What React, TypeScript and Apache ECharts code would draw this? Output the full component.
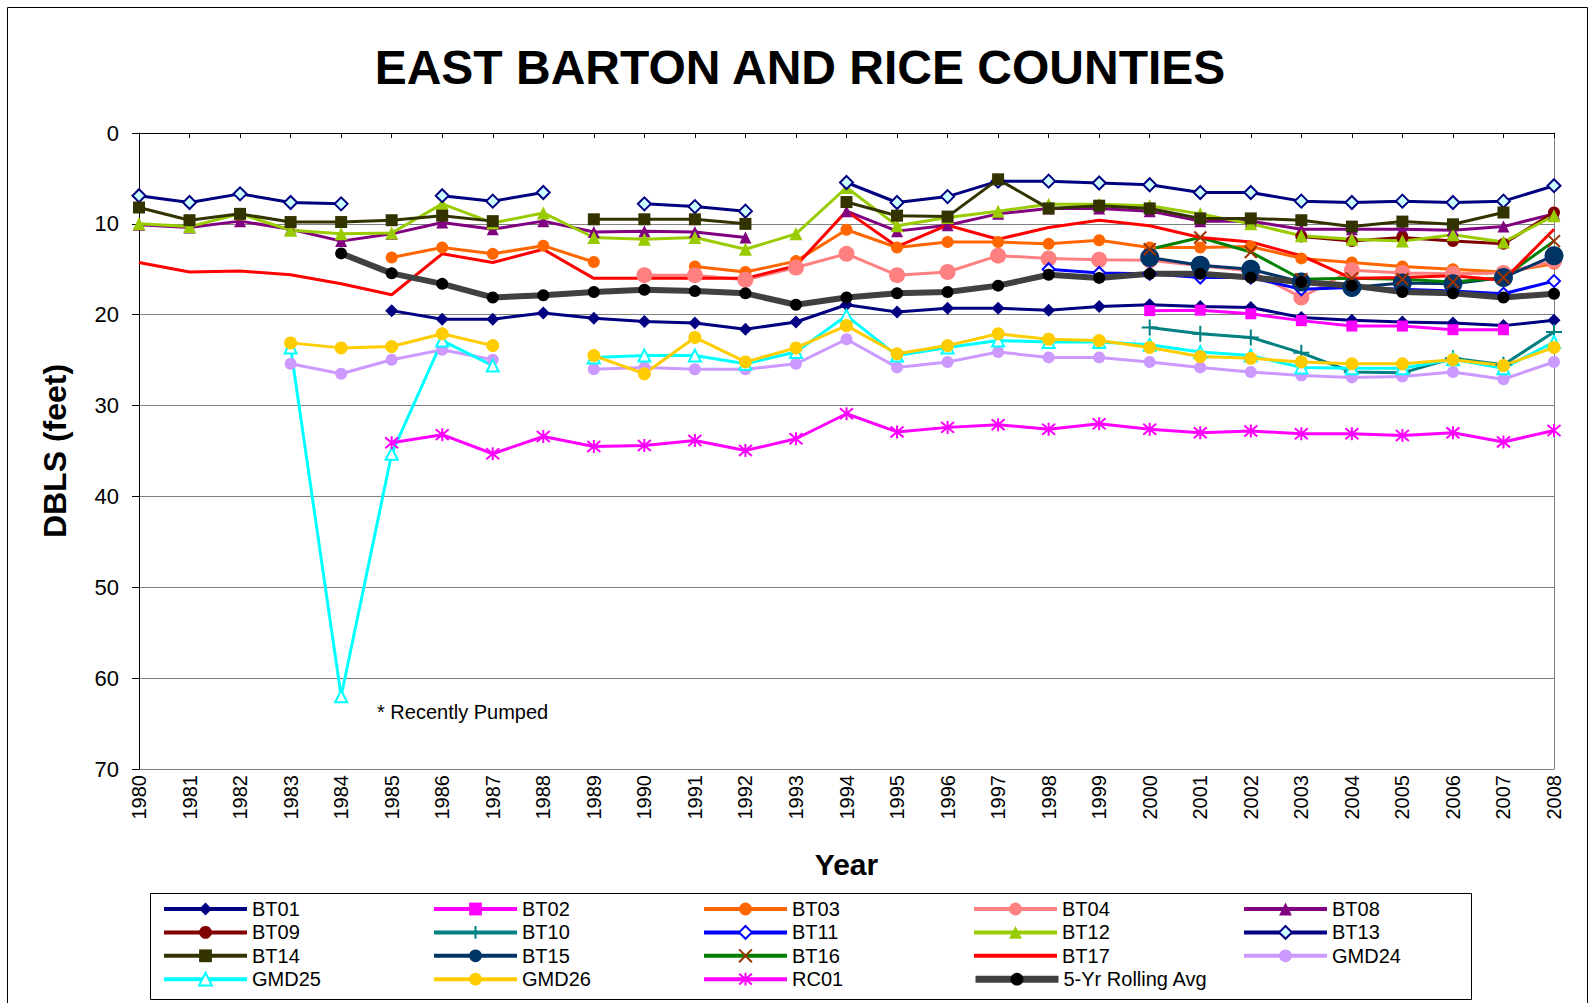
import React, { useEffect, useRef } from 'react';
import * as echarts from 'echarts';

const n = null;

const years = ['1980','1981','1982','1983','1984','1985','1986','1987','1988','1989','1990','1991','1992','1993','1994','1995','1996','1997','1998','1999','2000','2001','2002','2003','2004','2005','2006','2007','2008'];
const yTicks = [0, 10, 20, 30, 40, 50, 60, 70];

const BT01 = [n,n,n,n,n,19.55,20.5,20.5,19.8,20.4,20.75,20.9,21.6,20.8,18.9,19.7,19.3,19.3,19.5,19.1,18.9,19.1,19.2,20.3,20.6,20.8,20.9,21.2,20.6];
const BT02 = [n,n,n,n,n,n,n,n,n,n,n,n,n,n,n,n,n,n,n,n,19.55,19.5,19.9,20.65,21.25,21.25,21.65,21.65,n];
const BT03 = [n,n,n,n,n,13.7,12.6,13.3,12.4,14.2,n,14.7,15.3,14.1,10.65,12.6,12.0,12.0,12.2,11.8,12.6,12.6,12.5,13.8,14.25,14.7,15.0,15.3,14.4];
const BT04 = [n,n,n,n,n,n,n,n,n,n,15.65,15.65,16.15,14.8,13.3,15.65,15.3,13.5,13.8,13.95,14.0,14.6,15.2,18.1,15.1,15.4,15.5,15.4,14.1];
const BT08 = [10.1,10.4,9.7,10.6,11.9,11.1,9.85,10.6,9.7,10.9,10.8,10.9,11.5,n,8.6,10.8,10.15,8.9,8.3,8.3,8.6,9.7,9.7,10.6,10.6,10.6,10.7,10.3,8.9];
const BT09 = [n,n,n,n,n,n,n,n,n,n,n,n,n,n,n,n,n,n,n,n,n,n,n,11.4,11.9,11.5,11.9,12.2,8.75];
const BT10 = [n,n,n,n,n,n,n,n,n,n,n,n,n,n,n,n,n,n,n,n,21.4,22.1,22.5,24.2,26.3,26.4,24.8,25.5,21.9];
const BT11 = [n,n,n,n,n,n,n,n,n,n,n,n,n,n,n,n,n,n,15.0,15.4,15.5,15.9,15.9,17.2,17.0,17.2,17.4,17.7,16.3];
const BT12 = [10.0,10.3,8.9,10.7,11.1,11.0,7.8,9.9,8.8,11.5,11.7,11.5,12.8,11.1,6.0,10.2,9.3,8.6,7.85,7.85,8.0,8.9,10.0,11.3,11.7,11.9,11.2,12.0,9.1];
const BT13 = [6.9,7.65,6.7,7.65,7.8,n,6.9,7.5,6.55,n,7.8,8.1,8.6,n,5.45,7.65,7.0,5.3,5.3,5.5,5.7,6.55,6.55,7.5,7.65,7.5,7.65,7.5,5.8];
const BT14 = [8.2,9.6,8.9,9.8,9.8,9.6,9.1,9.7,n,9.5,9.5,9.5,10.0,n,7.6,9.1,9.2,5.1,8.3,8.0,8.3,9.4,9.4,9.6,10.3,9.75,10.05,8.75,n];
const BT15 = [n,n,n,n,n,n,n,n,n,n,n,n,n,n,n,n,n,n,n,n,13.7,14.55,15.0,16.4,17.0,16.5,16.6,15.9,13.5];
const BT16 = [n,n,n,n,n,n,n,n,n,n,n,n,n,n,n,n,n,n,n,n,12.8,11.5,13.1,16.1,16.0,16.1,16.4,15.9,11.9];
const BT17 = [14.25,15.3,15.2,15.6,16.6,17.8,13.3,14.25,12.8,16.0,16.0,16.0,16.0,14.6,8.6,12.5,10.15,11.7,10.4,9.6,10.2,11.5,12.0,13.5,16.0,15.9,15.7,16.2,10.6];
const GMD24 = [n,n,n,25.4,26.5,24.95,23.85,24.95,n,26.0,25.8,26.0,26.0,25.4,22.7,25.8,25.2,24.1,24.7,24.7,25.2,25.8,26.3,26.7,26.9,26.8,26.3,27.1,25.2];
const GMD25 = [n,n,n,23.6,62,35.3,22.85,25.6,n,24.7,24.5,24.5,25.4,24.1,20.1,24.5,23.6,22.85,23.0,23.0,23.3,24.1,24.5,25.8,25.9,25.9,24.9,25.9,23.0];
const GMD26 = [n,n,n,23.1,23.65,23.5,22.1,23.4,n,24.5,26.5,22.5,25.2,23.65,21.2,24.3,23.4,22.1,22.7,22.85,23.6,24.6,24.8,25.2,25.4,25.4,24.95,25.6,23.6];
const RC01 = [n,n,n,n,n,34.1,33.2,35.3,33.4,34.5,34.4,33.85,34.95,33.65,30.9,32.9,32.4,32.1,32.6,32.0,32.6,33.0,32.8,33.1,33.1,33.3,33.0,34.0,32.75];
const AVG5 = [n,n,n,n,13.25,15.45,16.6,18.1,17.85,17.5,17.25,17.4,17.65,18.9,18.1,17.65,17.5,16.8,15.6,15.95,15.5,15.5,15.9,16.4,16.8,17.5,17.65,18.1,17.7];

const legendRows = [
  ['BT01', 'BT02', 'BT03', 'BT04', 'BT08'],
  ['BT09', 'BT10', 'BT11', 'BT12', 'BT13'],
  ['BT14', 'BT15', 'BT16', 'BT17', 'GMD24'],
  ['GMD25', 'GMD26', 'RC01', '5-Yr Rolling Avg'],
];

const FONT = "'Liberation Sans', Arial, sans-serif";
const PLUS = 'path://M5,0V10M0,5H10';
const CROSS = 'path://M0,0L10,10M10,0L0,10';
const STAR = 'path://M5,0V10M0.8,0.8L9.2,9.2M9.2,0.8L0.8,9.2';

type Opt = { line: string; symbol: string; size: number; fill: string; stroke?: string; bw?: number; lw?: number };

function mk(name: string, data: (number | null)[], o: Opt) {
  return {
    type: 'line',
    name,
    data,
    connectNulls: false,
    symbol: o.symbol,
    symbolSize: o.size,
    showSymbol: o.symbol !== 'none',
    lineStyle: { color: o.line, width: o.lw ?? 3 },
    itemStyle: { color: o.fill, borderColor: o.stroke ?? o.fill, borderWidth: o.bw ?? 0 },
    emphasis: { disabled: true },
    silent: true,
  };
}

function legendItem(name: string) {
  const item: any = { name, lineStyle: { width: name === '5-Yr Rolling Avg' ? 7 : 4, opacity: 1 } };
  if (name === 'BT17') item.itemStyle = { opacity: 0 };
  return item;
}

export default function App() {
  const ref = useRef<HTMLDivElement>(null);
  useEffect(() => {
    const chart = echarts.init(ref.current!, null, { renderer: 'svg' });
    const series = [
      mk('BT01', BT01, { line: '#000080', symbol: 'diamond', size: 13, fill: '#000080' }),
      mk('BT02', BT02, { line: '#FF00FF', symbol: 'rect', size: 11, fill: '#FF00FF' }),
      mk('BT03', BT03, { line: '#FF6600', symbol: 'circle', size: 12, fill: '#FF6600' }),
      mk('BT04', BT04, { line: '#FF8080', symbol: 'circle', size: 16, fill: '#FF8080' }),
      mk('BT08', BT08, { line: '#800080', symbol: 'triangle', size: 12, fill: '#800080' }),
      mk('BT09', BT09, { line: '#800000', symbol: 'circle', size: 12, fill: '#800000' }),
      mk('BT10', BT10, { line: '#008080', symbol: PLUS, size: 16, fill: '#008080', stroke: '#008080', bw: 2 }),
      mk('BT11', BT11, { line: '#0000FF', symbol: 'diamond', size: 12, fill: '#FFFFFF', stroke: '#0000FF', bw: 2 }),
      mk('BT12', BT12, { line: '#99CC00', symbol: 'triangle', size: 13, fill: '#99CC00' }),
      mk('BT13', BT13, { line: '#000080', symbol: 'diamond', size: 13, fill: '#CCFFFF', stroke: '#000080', bw: 2 }),
      mk('BT14', BT14, { line: '#333300', symbol: 'rect', size: 12, fill: '#333300' }),
      mk('BT15', BT15, { line: '#003366', symbol: 'circle', size: 19, fill: '#003366' }),
      mk('BT16', BT16, { line: '#008000', symbol: CROSS, size: 12, fill: '#993300', stroke: '#993300', bw: 2 }),
      mk('BT17', BT17, { line: '#FF0000', symbol: 'none', size: 0, fill: '#FF0000' }),
      mk('GMD24', GMD24, { line: '#CC99FF', symbol: 'circle', size: 12, fill: '#CC99FF' }),
      mk('GMD25', GMD25, { line: '#00FFFF', symbol: 'triangle', size: 12, fill: '#FFFFFF', stroke: '#00FFFF', bw: 2 }),
      mk('GMD26', GMD26, { line: '#FFCC00', symbol: 'circle', size: 13, fill: '#FFCC00' }),
      mk('RC01', RC01, { line: '#FF00FF', symbol: STAR, size: 13, fill: '#FF00FF', stroke: '#FF00FF', bw: 2 }),
      mk('5-Yr Rolling Avg', AVG5, { line: '#404040', symbol: 'circle', size: 12, fill: '#000000', lw: 6 }),
    ];

    const legend = legendRows.map((row, i) => ({
      data: row.map(legendItem),
      orient: 'horizontal',
      left: 162,
      top: 898 + i * 23.4,
      itemWidth: 83,
      itemHeight: 16,
      itemGap: 0,
      padding: 0,
      selectedMode: false,
      textStyle: { fontFamily: FONT, fontSize: 20, color: '#000', width: 180, lineHeight: 22, padding: [0, 0, 0, 0] },
    }));

    chart.setOption({
      animation: false,
      backgroundColor: '#ffffff',
      grid: { left: 139, right: 39, top: 133, bottom: 234, containLabel: false },
      xAxis: {
        type: 'category',
        data: years,
        boundaryGap: false,
        name: 'Year',
        nameLocation: 'middle',
        nameGap: 80,
        nameTextStyle: { fontFamily: FONT, fontSize: 30, fontWeight: 'bold', color: '#000' },
        axisLine: { show: true, lineStyle: { color: '#000', width: 1 } },
        axisTick: { show: true, alignWithLabel: true, length: 5, lineStyle: { color: '#000' } },
        axisLabel: { rotate: 90, fontFamily: FONT, fontSize: 20, color: '#000', margin: 6, interval: 0 },
        splitLine: { show: false },
      },
      yAxis: [
        {
          type: 'value',
          inverse: true,
          min: yTicks[0],
          max: yTicks[yTicks.length - 1],
          interval: 10,
          name: 'DBLS (feet)',
          nameLocation: 'middle',
          nameRotate: 90,
          nameGap: 68,
          nameTextStyle: { fontFamily: FONT, fontSize: 32, fontWeight: 'bold', color: '#000' },
          axisLine: { show: true, lineStyle: { color: '#000', width: 1 } },
          axisTick: { show: true, inside: false, length: 7, lineStyle: { color: '#000' } },
          axisLabel: { fontFamily: FONT, fontSize: 22, color: '#000', margin: 20 },
          splitLine: { show: true, lineStyle: { color: '#808080', width: 1 } },
        },
        {
          type: 'value',
          inverse: true,
          position: 'right',
          min: yTicks[0],
          max: yTicks[yTicks.length - 1],
          interval: 10,
          axisLine: { show: true, lineStyle: { color: '#808080', width: 1 } },
          axisTick: { show: false },
          axisLabel: { show: false },
          splitLine: { show: false },
        },
      ],
      legend,
      series,
      graphic: [
        { type: 'rect', left: 5, top: 5, z: -10, silent: true, shape: { width: 1580, height: 1010 }, style: { fill: 'none', stroke: '#000', lineWidth: 1 } },
        { type: 'rect', left: 150, top: 893, z: -10, silent: true, shape: { width: 1321, height: 106 }, style: { fill: '#fff', stroke: '#000', lineWidth: 1 } },
        { type: 'text', x: 800, y: 67, silent: true, style: { text: 'EAST BARTON AND RICE COUNTIES', fontFamily: FONT, fontSize: 48, fontWeight: 'bold', fill: '#000', align: 'center', verticalAlign: 'middle' } },
        { type: 'text', x: 377, y: 712, silent: true, style: { text: '* Recently Pumped', fontFamily: FONT, fontSize: 20, fill: '#000', align: 'left', verticalAlign: 'middle' } },
      ],
    });
    return () => chart.dispose();
  }, []);
  return <div ref={ref} style={{ position: 'fixed', left: 0, top: 0, width: 1593, height: 1003, background: '#fff' }} />;
}
